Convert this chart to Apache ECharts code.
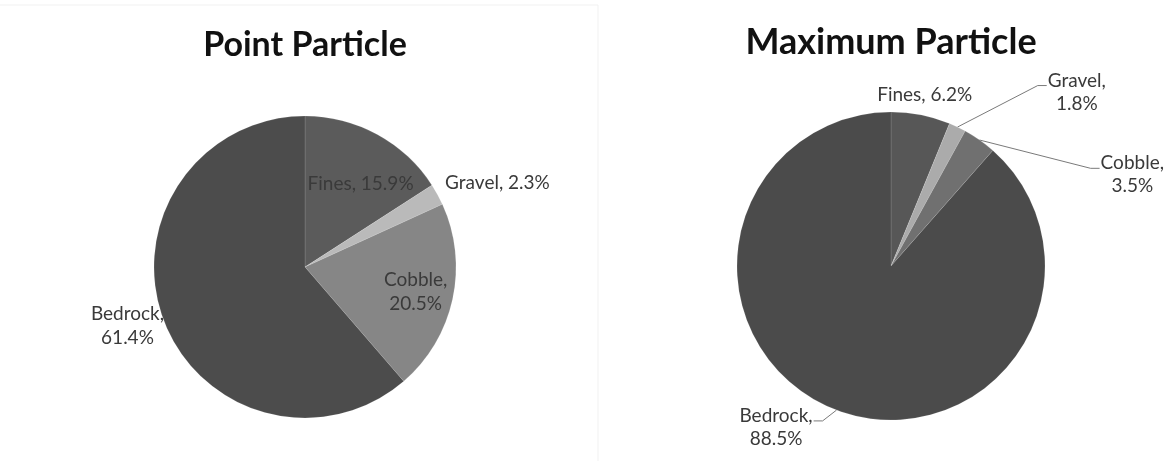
<!DOCTYPE html>
<html>
<head>
<meta charset="utf-8">
<script src="https://cdn.jsdelivr.net/npm/echarts@6/dist/echarts.min.js"></script>
<style>
  html, body { margin: 0; padding: 0; background: #fff; }
  #chart { width: 1171px; height: 461px; }
</style>
</head>
<body>
<div id="chart"></div>
<script>
// Particle classes, in drawing order (clockwise from 12 o'clock)
const categories = ['Fines', 'Gravel', 'Cobble', 'Bedrock'];
// Share of each class, percent
const pointParticle = [15.9, 2.3, 20.5, 61.4];
const maximumParticle = [6.2, 1.8, 3.5, 88.5];
const chartTitles = ['Point Particle', 'Maximum Particle'];

// Slice fills per chart
const pointColors = ['#5b5b5b', '#bababa', '#868686', '#4c4c4c'];
const maxColors = ['#575757', '#ababab', '#707070', '#4b4b4b'];

const textFont = 'Lato, "Open Sans", sans-serif';

// Label placement per slice: where the label sits and how far it is nudged
// from the library's default anchor
const pointLabelCfg = [
  { position: 'inside', lines: 1, dx: 18, dy: -14 },
  { position: 'outside', lines: 1, dx: 55, dy: -12 },
  { position: 'inside', lines: 2, dx: 34, dy: 8 },
  { position: 'outside', lines: 2, dx: -31, dy: 6 }
];
const maxLabelCfg = [
  { position: 'outside', lines: 1, line: false, dx: -13, dy: -10 },
  { position: 'outside', lines: 2, line: true, dx: 100, dy: -26 },
  { position: 'outside', lines: 2, line: true, dx: 132, dy: 43 },
  { position: 'outside', lines: 2, line: true, dx: -42, dy: 8 }
];

function buildData(values, colors, cfg) {
  return categories.map((name, i) => ({
    name: name,
    value: values[i],
    itemStyle: { color: colors[i] },
    label: { position: cfg[i].position },
    labelLine: { show: !!cfg[i].line }
  }));
}

function labelText(p, cfg) {
  const v = p.value.toFixed(1) + '%';
  return cfg[p.dataIndex].lines === 2 ? p.name + ',\n' + v : p.name + ', ' + v;
}

// Moves a label by its offset, centres its lines, and bends the leader line
// from the slice edge to the side of the moved label (short horizontal tail).
function makeLayout(cfg) {
  return function (p) {
    const c = cfg[p.dataIndex];
    const r = p.labelRect;
    const pts = p.labelLinePoints;
    const out = { dx: c.dx, dy: c.dy, align: 'center' };
    if (c.position === 'outside' && c.line && pts) {
      const rightSide = pts[2][0] >= pts[1][0];
      const anchorX = rightSide ? r.x : r.x + r.width;
      const cx = anchorX + c.dx;
      const cy = r.y + r.height / 2 + c.dy;
      const ty = cy - r.height / 4 + 5;
      const ex = rightSide ? cx - r.width / 2 - 1 : cx + r.width / 2 + 1;
      const bx = rightSide ? ex - 9 : ex + 9;
      out.labelLinePoints = [pts[0].slice(), [bx, ty], [ex, ty]];
    }
    return out;
  };
}

const chart = echarts.init(document.getElementById('chart'), null, { renderer: 'canvas' });

chart.setOption({
  animation: false,
  backgroundColor: '#ffffff',
  title: [
    {
      text: chartTitles[0], left: 300, top: 23, textAlign: 'center',
      textStyle: { fontFamily: textFont, fontWeight: 'bold', fontSize: 34, color: '#111' }
    },
    {
      text: chartTitles[1], left: 886, top: 19, textAlign: 'center',
      textStyle: { fontFamily: textFont, fontWeight: 'bold', fontSize: 36, color: '#111' }
    }
  ],
  graphic: [
    // faint frame around the first chart
    { type: 'line', shape: { x1: 0, y1: 5, x2: 598, y2: 5 }, style: { stroke: '#f1f1f1', lineWidth: 1 } },
    { type: 'line', shape: { x1: 598, y1: 5, x2: 598, y2: 461 }, style: { stroke: '#f1f1f1', lineWidth: 1 } }
  ],
  series: [
    {
      type: 'pie',
      center: [305, 267],
      radius: 151,
      startAngle: 90,
      clockwise: true,
      avoidLabelOverlap: false,
      itemStyle: { borderColor: 'rgba(255,255,255,0.12)', borderWidth: 1 },
      label: {
        show: true, color: '#3a3a3a', fontFamily: textFont, fontSize: 19, lineHeight: 24,
        formatter: p => labelText(p, pointLabelCfg)
      },
      labelLine: { show: false, length: 0, length2: 0 },
      labelLayout: makeLayout(pointLabelCfg),
      emphasis: { disabled: true },
      data: buildData(pointParticle, pointColors, pointLabelCfg)
    },
    {
      type: 'pie',
      center: [891, 266],
      radius: 154,
      startAngle: 90,
      clockwise: true,
      avoidLabelOverlap: false,
      itemStyle: { borderColor: 'rgba(255,255,255,0.12)', borderWidth: 1 },
      label: {
        show: true, color: '#3a3a3a', fontFamily: textFont, fontSize: 19, lineHeight: 23,
        formatter: p => labelText(p, maxLabelCfg)
      },
      labelLine: { length: 10, length2: 10, lineStyle: { color: '#7a7a7a', width: 1 } },
      labelLayout: makeLayout(maxLabelCfg),
      emphasis: { disabled: true },
      data: buildData(maximumParticle, maxColors, maxLabelCfg)
    }
  ]
});
</script>
</body>
</html>
